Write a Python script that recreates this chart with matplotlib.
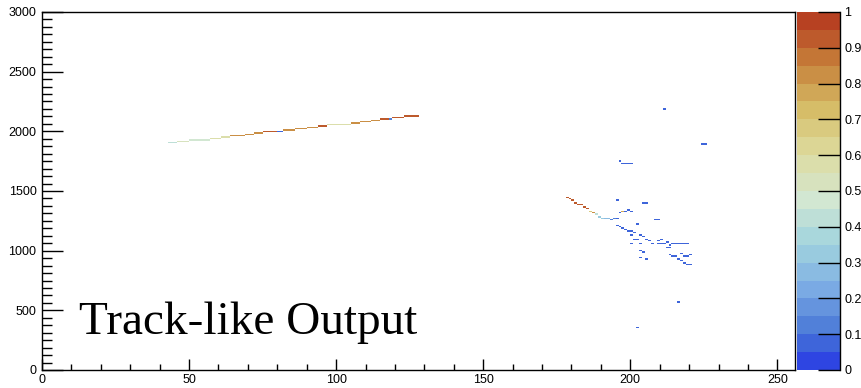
import numpy as np
import matplotlib
matplotlib.use('Agg')
import matplotlib.pyplot as plt
from matplotlib.colors import LinearSegmentedColormap, ListedColormap, BoundaryNorm

# histogram binning (256 x 256 image)
n_x, n_y = 256, 256
x_max, y_max = 256, 3000

# left track: runs of cells (x from, x to, y, value)
trk_x0 = [43, 46, 50, 57, 61, 64, 69, 72, 75, 80, 82, 86, 90, 94, 97, 105, 108, 112, 115, 118, 119, 123]
trk_x1 = [46, 50, 57, 61, 64, 69, 72, 75, 80, 82, 86, 90, 94, 97, 105, 108, 112, 115, 118, 119, 123, 128]
trk_y = [1905, 1917, 1928, 1942, 1953, 1964, 1976, 1987, 2001, 2001, 2012, 2026, 2036, 2048,
         2062, 2073, 2084, 2095, 2107, 2107, 2120, 2132]
trk_z = [0.40, 0.50, 0.45, 0.55, 0.55, 0.85, 0.85, 0.85, 0.90, 0.05, 0.85, 0.85, 0.80, 0.90,
         0.60, 0.80, 0.85, 0.80, 0.90, 0.15, 0.95, 0.90]

# right track (red diagonal fading to blue)
rtrk_x0 = [178, 179, 180, 181, 182, 184, 185, 186, 187, 188, 189, 190, 191, 193, 194]
rtrk_x1 = [179, 180, 181, 182, 184, 185, 186, 187, 188, 189, 190, 191, 193, 194, 195]
rtrk_y = [1453, 1441, 1425, 1402, 1389, 1369, 1352, 1327, 1316, 1308, 1285, 1268, 1268, 1258, 1271]
rtrk_z = [0.95, 0.95, 0.90, 0.95, 0.95, 0.90, 0.90, 0.70, 0.80, 0.40, 0.35, 0.35, 0.25, 0.10, 0.10]

# scattered hits (mostly low values)
hit_x0 = [195, 204, 196, 197, 198, 199, 200, 195, 202, 208, 195, 196, 197, 198, 199, 201, 200,
          203, 204, 201, 205, 206, 207, 209, 210, 209, 212, 213, 214, 212, 200, 203, 203, 204,
          213, 214, 216, 217, 218, 220, 217, 218, 219, 203, 205,
          211, 224, 196, 197, 216, 202]
hit_x1 = [196, 206, 197, 198, 199, 200, 201, 196, 203, 210, 196, 197, 198, 199, 201, 202, 201,
          204, 205, 203, 206, 207, 208, 210, 211, 212, 213, 214, 220, 214, 201, 204, 204, 205,
          214, 216, 217, 218, 220, 221, 218, 219, 221, 204, 206,
          212, 226, 197, 201, 217, 203]
hit_y = [1425, 1400, 1319, 1327, 1327, 1341, 1327, 1268, 1227, 1260, 1210, 1199, 1187, 1176,
         1165, 1154, 1129, 1129, 1115, 1092, 1092, 1081, 1059, 1081, 1092, 1059, 1070, 1048,
         1059, 1023, 1059, 1059, 1000, 989, 964, 953, 928, 975, 953, 964, 916, 894, 883, 941, 928,
         2188, 1897, 1754, 1732, 570, 360]
hit_z = [0.05, 0.05, 0.05, 0.75, 0.05, 0.05, 0.05, 0.05, 0.05, 0.05, 0.08, 0.05, 0.05, 0.05,
         0.05, 0.05, 0.05, 0.05, 0.05, 0.05, 0.05, 0.05, 0.05, 0.05, 0.05, 0.05, 0.05, 0.05,
         0.05, 0.05, 0.05, 0.05, 0.05, 0.05, 0.05, 0.05, 0.05, 0.05, 0.05, 0.05, 0.05, 0.05, 0.05,
         0.05, 0.05, 0.05, 0.05, 0.05, 0.05, 0.05, 0.05]

# ROOT kLightTemperature palette stops
pal_r = [31, 71, 123, 160, 210, 222, 214, 199, 183]
pal_g = [40, 117, 171, 211, 231, 220, 190, 132, 65]
pal_b = [234, 214, 228, 222, 210, 160, 105, 60, 34]
n_levels = 20


def fill_cells(z, x0s, x1s, ys, vals):
    dy = y_max / n_y
    for a, b, y, v in zip(x0s, x1s, ys, vals):
        z[int(y / dy), a:b] = v


z = np.full((n_y, n_x), np.nan)
fill_cells(z, trk_x0, trk_x1, trk_y, trk_z)
fill_cells(z, rtrk_x0, rtrk_x1, rtrk_y, rtrk_z)
fill_cells(z, hit_x0, hit_x1, hit_y, hit_z)

stops = [(i / 8, (r / 255, g / 255, b / 255)) for i, (r, g, b) in enumerate(zip(pal_r, pal_g, pal_b))]
base = LinearSegmentedColormap.from_list('lighttemp', stops, N=255)
level_cols = [base(int((i + 0.99) * 255 / n_levels) / 254) for i in range(n_levels)]
cmap = ListedColormap(level_cols)
cmap.set_bad('white')
norm = BoundaryNorm(np.linspace(0, 1, n_levels + 1), n_levels)

plt.rcParams['font.family'] = ['Liberation Sans', 'DejaVu Sans']

fig = plt.figure(figsize=(8.62, 3.88), dpi=100)
W, H = 862, 388
ax = fig.add_axes([42 / W, 18 / H, 753 / W, 358 / H])
cax = fig.add_axes([797 / W, 18 / H, 43 / W, 358 / H])

xe = np.linspace(0, x_max, n_x + 1)
ye = np.linspace(0, y_max, n_y + 1)
mesh = ax.pcolormesh(xe, ye, np.ma.masked_invalid(z), cmap=cmap, norm=norm,
                     shading='flat', antialiased=False, linewidth=0)

ax.set_xlim(0, x_max)
ax.set_ylim(0, y_max)
ax.set_xticks(np.arange(0, 251, 50))
ax.set_xticks(np.arange(0, 256, 10), minor=True)
ax.set_yticks(np.arange(0, 3001, 500))
ax.set_yticks(np.arange(0, 3001, 62.5), minor=True)
ax.tick_params(which='both', direction='in', top=False, right=False, labelsize=9, width=1)
ax.tick_params(axis='x', which='major', length=8, pad=3)
ax.tick_params(axis='x', which='minor', length=4)
ax.tick_params(axis='y', which='major', length=15, pad=4)
ax.tick_params(axis='y', which='minor', length=7.5)
for s in ax.spines.values():
    s.set_linewidth(1)

ax.text(12.6, 305, 'Track-like Output', family='Liberation Serif', fontsize=34,
        va='baseline', ha='left')

cb = fig.colorbar(mesh, cax=cax)
cb.outline.set_visible(False)
cb.set_ticks(np.linspace(0, 1, 11))
cb.set_ticklabels(['0', '0.1', '0.2', '0.3', '0.4', '0.5', '0.6', '0.7', '0.8', '0.9', '1'])
cax.tick_params(direction='in', length=16, width=1, labelsize=9, pad=3)
cax.minorticks_off()
cax.plot([1, 1], [0, 1], transform=cax.transAxes, color='k', lw=1, clip_on=False)

fig.savefig('out.png', dpi=100)
